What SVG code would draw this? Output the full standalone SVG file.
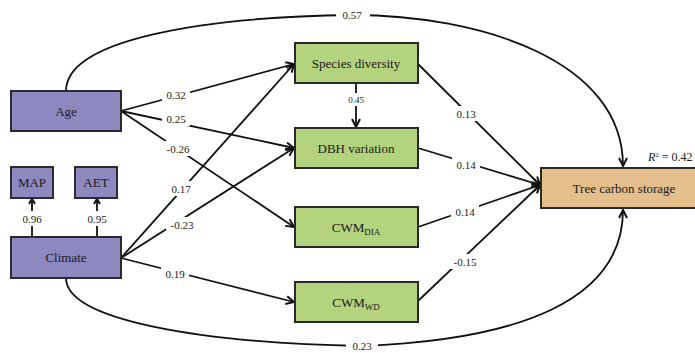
<svg xmlns="http://www.w3.org/2000/svg" width="695" height="353" viewBox="0 0 695 353">
<style>
.box{stroke:#2a2a2a;stroke-width:2}
.pur{fill:#8e88c1}
.grn{fill:#b4d37f}
.tan{fill:#e5bf8b}
.nt{font-family:"Liberation Serif","Times New Roman",serif;font-size:13px;fill:#1a1a1a;text-anchor:middle}
.lb{font-family:"Liberation Serif","Times New Roman",serif;font-size:11px;fill:#1a1a1a;text-anchor:middle}
.sm{font-size:9px}
.e{fill:none;stroke:#111;stroke-width:1.8}
.bg{fill:#fff}
</style>
<defs>
<marker id="ar" markerUnits="userSpaceOnUse" markerWidth="12" markerHeight="12" refX="9" refY="5" orient="auto">
<path d="M1,1 L9,5 L1,9" fill="none" stroke="#111" stroke-width="2"/>
</marker>
<marker id="ars" markerUnits="userSpaceOnUse" markerWidth="10" markerHeight="10" refX="6" refY="4" orient="auto">
<path d="M1,1 L6,4 L1,7" fill="none" stroke="#111" stroke-width="2"/>
</marker>
</defs>
<g id="connectors">
<path class="e" d="M66,91 C66,40 200,17 352,15 C480,15 623,60 623,166" marker-end="url(#ar)"/>
<path class="e" d="M66,278 C66,320 200,343 362,346 C520,340 623,300 623,210" marker-end="url(#ar)"/>
<path class="e" d="M121,111 L294,64" marker-end="url(#ar)"/>
<path class="e" d="M121,111 L294,148" marker-end="url(#ar)"/>
<path class="e" d="M121,111 L294,227" marker-end="url(#ar)"/>
<path class="e" d="M121,258 L294,64" marker-end="url(#ar)"/>
<path class="e" d="M121,258 L294,148" marker-end="url(#ar)"/>
<path class="e" d="M121,258 L294,302" marker-end="url(#ar)"/>
<path class="e" d="M356,83 L356,127" marker-end="url(#ar)"/>
<path class="e" d="M418,64 L540,185" marker-end="url(#ar)"/>
<path class="e" d="M418,148 L540,185" marker-end="url(#ar)"/>
<path class="e" d="M418,227 L540,185" marker-end="url(#ar)"/>
<path class="e" d="M418,301 L540,185" marker-end="url(#ar)"/>
<path class="e" d="M32,237 L32,199" marker-end="url(#ars)"/>
<path class="e" d="M97,237 L97,199" marker-end="url(#ars)"/>
<g id="labels">
<rect class="bg" x="336" y="6" width="34" height="17"/><text class="lb" x="352" y="19">0.57</text>
<rect class="bg" x="346" y="338" width="32" height="15"/><text class="lb" x="362" y="350">0.23</text>
<rect class="bg" x="162" y="87" width="28" height="15"/><text class="lb" x="176" y="99">0.32</text>
<rect class="bg" x="162" y="111" width="28" height="15"/><text class="lb" x="176" y="123">0.25</text>
<rect class="bg" x="162" y="141" width="32" height="15"/><text class="lb" x="178" y="153">-0.26</text>
<rect class="bg" x="167" y="181" width="28" height="15"/><text class="lb" x="181" y="193">0.17</text>
<rect class="bg" x="166" y="217" width="32" height="15"/><text class="lb" x="182" y="229">-0.23</text>
<rect class="bg" x="161" y="266" width="28" height="15"/><text class="lb" x="175" y="278">0.19</text>
<rect class="bg" x="344" y="93" width="24" height="13"/><text class="lb sm" x="356" y="103">0.45</text>
<rect class="bg" x="452" y="106" width="28" height="15"/><text class="lb" x="466" y="118">0.13</text>
<rect class="bg" x="452" y="157" width="28" height="15"/><text class="lb" x="466" y="169">0.14</text>
<rect class="bg" x="451" y="204" width="28" height="15"/><text class="lb" x="465" y="216">0.14</text>
<rect class="bg" x="449" y="254" width="32" height="15"/><text class="lb" x="465" y="266">-0.15</text>
<rect class="bg" x="18" y="211" width="28" height="15"/><text class="lb" x="32" y="223">0.96</text>
<rect class="bg" x="83" y="211" width="28" height="15"/><text class="lb" x="97" y="223">0.95</text>
</g>
</g>
<g id="age"><rect class="box pur" x="11" y="91" width="110" height="40"/><text class="nt" x="66" y="116">Age</text></g>
<g id="climate"><rect class="box pur" x="11" y="237" width="110" height="41"/><text class="nt" x="66" y="262">Climate</text></g>
<g id="map"><rect class="box pur" x="11" y="167" width="42" height="31"/><text class="nt" x="32" y="187">MAP</text></g>
<g id="aet"><rect class="box pur" x="75" y="167" width="42" height="31"/><text class="nt" x="96" y="187">AET</text></g>
<g id="species"><rect class="box grn" x="295" y="43" width="123" height="40"/><text class="nt" x="356" y="68">Species diversity</text></g>
<g id="dbh"><rect class="box grn" x="295" y="128" width="123" height="40"/><text class="nt" x="356" y="153">DBH variation</text></g>
<g id="cwmdia"><rect class="box grn" x="295" y="207" width="123" height="40"/><text class="nt" x="356" y="232">CWM<tspan font-size="9" dy="3">DIA</tspan></text></g>
<g id="cwmwd"><rect class="box grn" x="295" y="282" width="123" height="40"/><text class="nt" x="356" y="307">CWM<tspan font-size="9" dy="3">WD</tspan></text></g>
<g id="tree"><rect class="box tan" x="541" y="168" width="160" height="40"/><text class="nt" x="624" y="193">Tree carbon storage</text></g>
<text class="lb" x="648" y="161" style="font-size:12px;text-anchor:start"><tspan font-style="italic">R</tspan><tspan font-size="7" dy="-4">2</tspan><tspan dy="4"> = 0.42</tspan></text>
</svg>
